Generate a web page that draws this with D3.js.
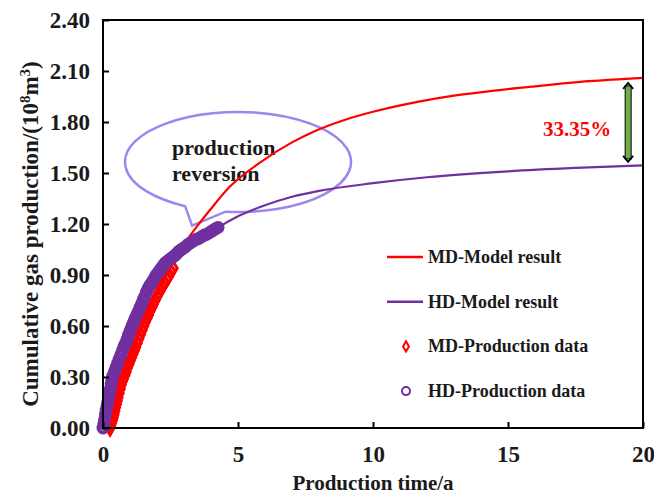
<!DOCTYPE html>
<html>
<head>
<meta charset="utf-8">
<script src="https://cdn.jsdelivr.net/npm/d3@7"></script>
<style>
  body { margin: 0; background: #fff; }
  text { font-family: "Liberation Serif", "Times New Roman", serif; font-weight: bold; fill: #1a1a1a; }
</style>
</head>
<body>
<div id="plot"></div>
<script>
const X_TICKS = [0, 5, 10, 15, 20];
const Y_TICKS = [0, 0.3, 0.6, 0.9, 1.2, 1.5, 1.8, 2.1, 2.4];

// model curves
const MD_MODEL_T = [0.3, 0.5, 0.75, 1, 1.5, 2, 2.5, 3, 3.5, 4, 4.7, 5.8, 7, 7.9, 9, 10, 11.7, 13, 14.5, 16, 18, 20];
const MD_MODEL_V = [0, 0.10, 0.26, 0.39, 0.62, 0.79, 0.94, 1.08, 1.19, 1.29, 1.42, 1.56, 1.68, 1.75, 1.815, 1.86, 1.92, 1.955, 1.985, 2.01, 2.04, 2.06];
const HD_MODEL_T = [0, 0.35, 0.8, 1.2, 1.7, 2.5, 2.9, 3.6, 4.26, 5, 6, 7, 8, 10, 12, 15, 17.5, 20];
const HD_MODEL_V = [0, 0.30, 0.47, 0.64, 0.83, 0.99, 1.05, 1.12, 1.18, 1.245, 1.31, 1.36, 1.395, 1.44, 1.475, 1.51, 1.53, 1.545];

// production data
const MD_DATA_T = [0.26,0.29,0.32,0.35,0.38,0.41,0.44,0.47,0.50,0.53,0.56,0.60,0.64,0.68,0.72,0.76,
  0.81,0.86,0.91,0.96,1.01,1.06,1.11,1.16,1.21,1.27,1.33,1.39,1.45,
  1.51,1.57,1.63,1.69,1.75,1.81,1.87,1.93,2.00,
  2.07,2.14,2.21,2.28,2.36,2.44,2.52,2.60];
const MD_DATA_V = [0,0.015,0.03,0.045,0.06,0.08,0.10,0.12,0.14,0.16,0.18,0.205,0.23,0.255,0.275,0.29,
  0.31,0.33,0.355,0.375,0.395,0.415,0.435,0.455,0.475,0.50,0.525,0.55,0.575,
  0.60,0.625,0.645,0.665,0.69,0.71,0.73,0.75,0.775,
  0.795,0.815,0.835,0.855,0.875,0.895,0.92,0.94];
const HD_DATA_T = [0,0.03,0.06,0.09,0.12,0.15,0.18,0.21,0.24,0.27,0.30,0.33,
  0.36,0.42,0.48,0.54,0.60,0.66,0.72,0.78,
  0.84,0.89,0.94,0.99,1.04,1.09,1.14,1.19,
  1.25,1.31,1.37,1.43,1.49,1.55,1.61,1.67,
  1.74,1.81,1.88,1.95,2.02,2.09,2.16,2.23,2.30,
  2.38,2.46,2.54,2.62,2.70,2.78,2.86,
  2.95,3.05,3.15,3.25,3.35,3.45,3.55,3.65,3.75,3.85,3.95,4.05,4.15,4.26];
const HD_DATA_V = [0,0.025,0.05,0.08,0.105,0.13,0.155,0.18,0.205,0.23,0.26,0.285,
  0.305,0.33,0.355,0.38,0.405,0.43,0.455,0.48,
  0.50,0.52,0.545,0.565,0.585,0.605,0.625,0.645,
  0.665,0.685,0.71,0.73,0.755,0.775,0.80,0.82,
  0.84,0.855,0.875,0.895,0.91,0.925,0.94,0.955,0.97,
  0.98,0.99,1.00,1.01,1.02,1.035,1.045,
  1.055,1.065,1.08,1.09,1.10,1.11,1.115,1.125,1.135,1.14,1.15,1.16,1.17,1.18];

const LEGEND = ["MD-Model result", "HD-Model result", "MD-Production data", "HD-Production data"];
const GAP_LABEL = "33.35%";
const GAP_RANGE = [2.03, 1.565];
const GAP_T = 19.45;

const RED = "#ff0000";
const PURPLE = "#7030a0";
const CALLOUT = "#9f85ee";

function zip(ts, vs) { return ts.map(function(t, i) { return {t: t, v: vs[i]}; }); }

let width = 654, height = 495;
let mLeft = 103, mRight = 643, mTop = 20, mBottom = 428;

let svg = d3.select("#plot").append("svg")
  .attr("width", width)
  .attr("height", height);

let x = d3.scaleLinear().domain([0, 20]).range([mLeft, mRight]);
let y = d3.scaleLinear().domain([0, 2.4]).range([mBottom, mTop]);

// callout bubble (behind the curves)
let cx = 238, cy = 162, rx = 113, ry = 50;
let a1 = Math.PI * 0.655, a2 = Math.PI * 0.535;
let p1 = [cx + rx * Math.cos(a1), cy + ry * Math.sin(a1)];
let p2 = [cx + rx * Math.cos(a2), cy + ry * Math.sin(a2)];
let tip = [x(3.3), y(1.19)];
svg.append("path")
  .attr("d", "M" + p2[0] + "," + p2[1] +
    " A" + rx + "," + ry + " 0 1 0 " + p1[0] + "," + p1[1] +
    " L" + tip[0] + "," + tip[1] + " Z")
  .attr("fill", "none")
  .attr("stroke", CALLOUT)
  .attr("stroke-width", 2.5)
  .attr("stroke-linejoin", "miter");

svg.append("text").attr("x", 172).attr("y", 155).style("font-size", "22px").text("production");
svg.append("text").attr("x", 172).attr("y", 181).style("font-size", "22px").text("reversion");

// model lines
let line = d3.line()
  .x(function(d) { return x(d.t); })
  .y(function(d) { return y(d.v); })
  .curve(d3.curveMonotoneX);

svg.append("path").datum(zip(MD_MODEL_T, MD_MODEL_V))
  .attr("d", line).attr("fill", "none").attr("stroke", RED).attr("stroke-width", 2.2);
svg.append("path").datum(zip(HD_MODEL_T, HD_MODEL_V))
  .attr("d", line).attr("fill", "none").attr("stroke", PURPLE).attr("stroke-width", 2.2);

// production data markers
let diamond = d3.symbol().type(d3.symbolDiamond).size(55);
svg.append("g").selectAll("path")
  .data(zip(MD_DATA_T, MD_DATA_V))
  .enter().append("path")
    .attr("d", diamond)
    .attr("transform", function(d) { return "translate(" + x(d.t) + "," + y(d.v) + ")"; })
    .attr("fill", "none")
    .attr("stroke", RED)
    .attr("stroke-width", 3);

svg.append("g").selectAll("circle")
  .data(zip(HD_DATA_T, HD_DATA_V))
  .enter().append("circle")
    .attr("cx", function(d) { return x(d.t); })
    .attr("cy", function(d) { return y(d.v); })
    .attr("r", 4.5)
    .attr("fill", "none")
    .attr("stroke", PURPLE)
    .attr("stroke-width", 4);

// frame + inward ticks
svg.append("rect")
  .attr("x", mLeft).attr("y", mTop)
  .attr("width", mRight - mLeft).attr("height", mBottom - mTop)
  .attr("fill", "none").attr("stroke", "#000").attr("stroke-width", 2);

let xAxis = svg.append("g")
  .attr("transform", "translate(0," + mBottom + ")")
  .call(d3.axisBottom(x).tickValues(X_TICKS).tickSizeInner(-6).tickSizeOuter(0).tickPadding(18));
let yAxis = svg.append("g")
  .attr("transform", "translate(" + mLeft + ",0)")
  .call(d3.axisLeft(y).tickValues(Y_TICKS).tickFormat(d3.format(".2f")).tickSizeInner(-6).tickSizeOuter(0).tickPadding(13));
[xAxis, yAxis].forEach(function(g) {
  g.select(".domain").remove();
  g.selectAll("line").attr("stroke", "#000").attr("stroke-width", 2);
  g.selectAll("text").style("font-size", "23px").style("font-family", "Liberation Serif").attr("fill", "#1a1a1a");
});
yAxis.selectAll("text").attr("dy", "0.33em");

// axis titles
svg.append("text")
  .attr("x", 373).attr("y", 490)
  .attr("text-anchor", "middle")
  .style("font-size", "21px")
  .text("Production time/a");

let yt = svg.append("text")
  .attr("transform", "translate(38,234) rotate(-90)")
  .attr("text-anchor", "middle")
  .style("font-size", "23px");
yt.append("tspan").text("Cumulative gas production/(10");
yt.append("tspan").attr("baseline-shift", "super").style("font-size", "15px").text("8");
yt.append("tspan").text("m");
yt.append("tspan").attr("baseline-shift", "super").style("font-size", "15px").text("3");
yt.append("tspan").text(")");

// gap arrow + label
let ax = x(GAP_T), ay1 = y(GAP_RANGE[0]), ay2 = y(GAP_RANGE[1]);
svg.append("rect")
  .attr("x", ax - 3).attr("y", ay1 + 3).attr("width", 6).attr("height", ay2 - ay1 - 6)
  .attr("fill", "#70ad47").attr("stroke", "#000").attr("stroke-width", 1);
svg.append("path")
  .attr("d", "M" + (ax - 5) + "," + (ay1 + 6) + " L" + ax + "," + ay1 + " L" + (ax + 5) + "," + (ay1 + 6) +
    " M" + (ax - 5) + "," + (ay2 - 6) + " L" + ax + "," + ay2 + " L" + (ax + 5) + "," + (ay2 - 6))
  .attr("fill", "none").attr("stroke", "#000").attr("stroke-width", 1.8);
svg.append("text")
  .attr("x", 577).attr("y", 136)
  .attr("text-anchor", "middle")
  .style("font-size", "21px")
  .style("fill", RED)
  .text(GAP_LABEL);

// legend
let lg = svg.append("g").attr("transform", "translate(387,257)");
LEGEND.forEach(function(name, i) {
  let row = lg.append("g").attr("transform", "translate(0," + (i * 44.7) + ")");
  if (i < 2) {
    row.append("line").attr("x1", 0).attr("x2", 36).attr("y1", 0).attr("y2", 0)
      .attr("stroke", i == 0 ? RED : PURPLE).attr("stroke-width", 2.5);
  } else if (i == 2) {
    row.append("path").attr("d", d3.symbol().type(d3.symbolDiamond).size(30))
      .attr("transform", "translate(19,0)")
      .attr("fill", "none").attr("stroke", RED).attr("stroke-width", 2);
  } else {
    row.append("circle").attr("cx", 19).attr("cy", 0).attr("r", 4)
      .attr("fill", "none").attr("stroke", PURPLE).attr("stroke-width", 2);
  }
  row.append("text").attr("x", 41).attr("y", 6).style("font-size", "18px").text(name);
});
</script>
</body>
</html>
